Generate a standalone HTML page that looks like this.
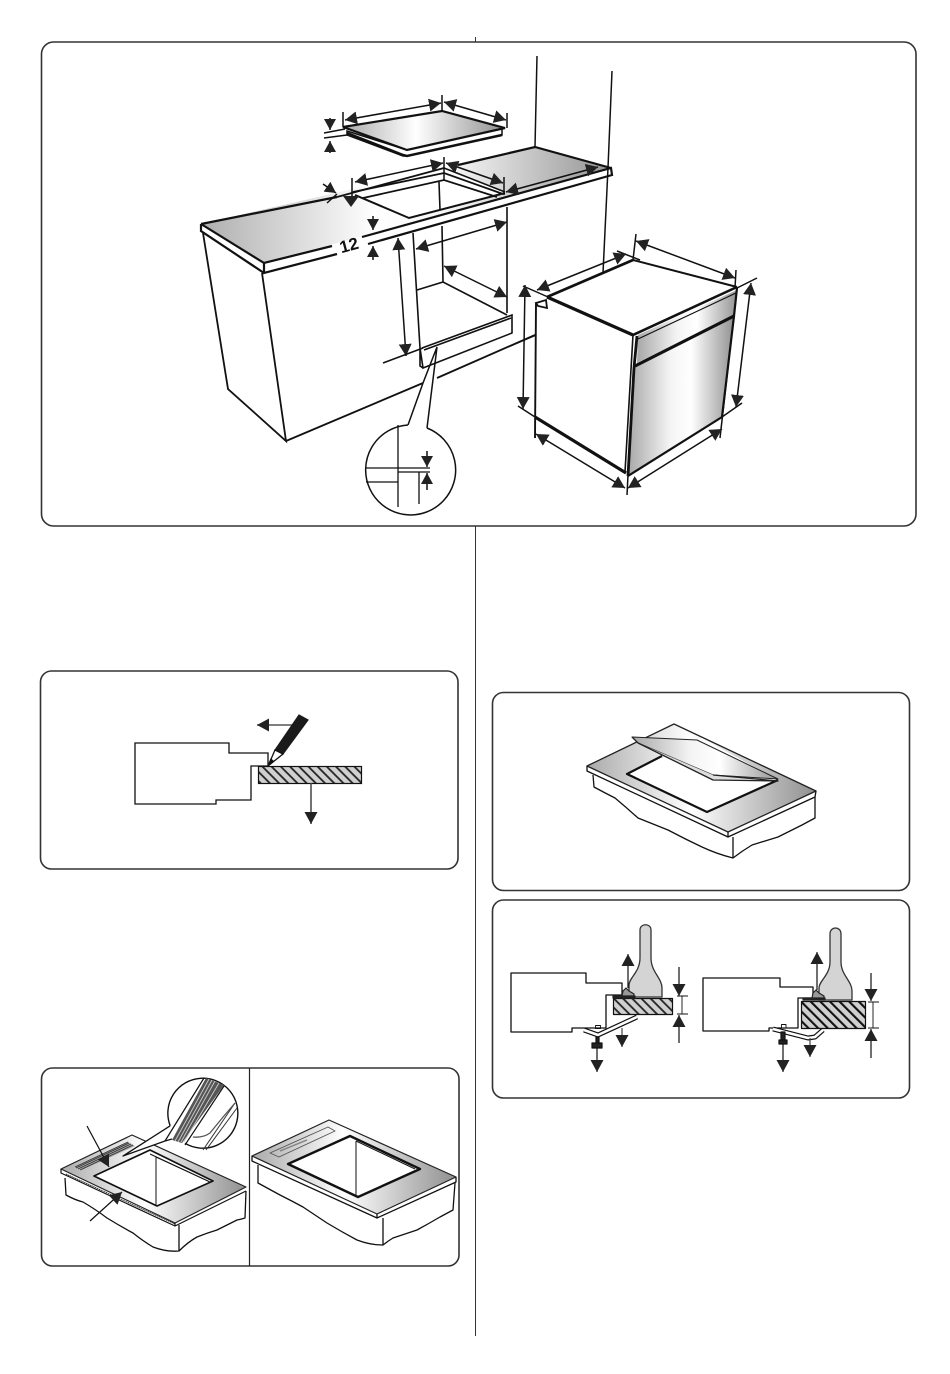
<!DOCTYPE html>
<html><head><meta charset="utf-8"><style>html,body{margin:0;padding:0;background:#fff}svg{display:block}</style></head><body>
<svg width="950" height="1374" viewBox="0 0 950 1374" xmlns="http://www.w3.org/2000/svg">
<defs>
<marker id="a" markerUnits="userSpaceOnUse" markerWidth="13" markerHeight="13" refX="12" refY="6.5" orient="auto-start-reverse"><path d="M0 0L12 6.5L0 13z" fill="#222"/></marker>
<marker id="s" markerUnits="userSpaceOnUse" markerWidth="12" markerHeight="12" refX="11" refY="6" orient="auto-start-reverse"><path d="M0 0L11 6L0 12z" fill="#222"/></marker>
<linearGradient id="g1" gradientUnits="userSpaceOnUse" x1="205" y1="0" x2="610" y2="0"><stop offset="0" stop-color="#b0b0b0"/><stop offset=".42" stop-color="#fff"/><stop offset=".62" stop-color="#f4f4f4"/><stop offset="1" stop-color="#959595"/></linearGradient>
<linearGradient id="g2"><stop offset="0" stop-color="#aaa"/><stop offset=".45" stop-color="#fff"/><stop offset="1" stop-color="#909090"/></linearGradient>
<linearGradient id="g3"><stop offset="0" stop-color="#a8a8a8"/><stop offset=".4" stop-color="#f4f4f4"/><stop offset=".6" stop-color="#fff"/><stop offset="1" stop-color="#949494"/></linearGradient>
<pattern id="h" width="6.500" height="6.500" patternUnits="userSpaceOnUse" patternTransform="rotate(-45)"><rect width="6.500" height="6.500" fill="#d0d0d0"/><line x1="1" y1="0" x2="1" y2="6.500" stroke="#222" stroke-width="1.8"/></pattern>
<pattern id="hb" width="6.800" height="6.800" patternUnits="userSpaceOnUse" patternTransform="rotate(-45)"><rect width="6.800" height="6.800" fill="#d0d0d0"/><line x1="1" y1="0" x2="1" y2="6.800" stroke="#111" stroke-width="2.200"/></pattern>
</defs>

<line x1="475.5" y1="37" x2="475.5" y2="1336" stroke="#333" stroke-width="1"/>

<!-- Panel 1 -->
<rect x="41.5" y="42" width="874.5" height="484" rx="12" fill="#fff" stroke="#333" stroke-width="1.6"/>
<g fill="none" stroke="#111" stroke-width="1.5">
<path d="M537 56L535 147M612 71L608 168L603 273"/>
<path d="M203 233L228 389L286 441L262 273M286 441L423 383M437 378L535 335" stroke-width="1.8"/>
<!-- counter -->
<path d="M201 224L535 147L611 168L264 263Z" fill="url(#g1)" stroke="none"/>
<path d="M353 192L444 168L505 192L409 218Z" fill="#fff" stroke="none"/>
<path d="M201 224L337 197M458 165L535 147L611 168" stroke-width="2.200"/>
<path d="M337 197L444 168" stroke-width="1.8"/>
<path d="M353 192L444 173L503 194M363 198L444 180L497 197" stroke-width="1.8"/>
<path d="M355 195L409 218L505 193" stroke-width="2"/>
<path d="M444 168L505 192" stroke-width="1.5"/>
<path d="M439 182L440 210" stroke-width="1.6"/>
<path d="M201 224L264 263L332 246M362 237L611 168L612 175L368 244M337 254L264 273L264 263M201 224L201 231L264 273" stroke-width="2.200"/>
<!-- opening -->
<path d="M413 233L420 348M507 207L507 313M442 226L443 282M417 290L443 282L507 315M422 348L512 315L512 333L423 368L420 348L420 366L423 368M424 350L511 318" stroke-width="1.6"/>
<!-- callout -->
<path d="M437 347L423 383L408 425M437 347L427 428"/>
<path d="M408 425A45 45 0 1 0 427 428" fill="#fff"/>
<path d="M398 425V507M365 468H430M398 472H430M366 482H398M419 472V504" stroke-width="1.3"/>
<line x1="427" y1="451" x2="427" y2="467" marker-end="url(#s)"/>
<line x1="427" y1="490" x2="427" y2="473" marker-end="url(#s)"/>
<!-- hob -->
<path d="M347 131L407 150L502 128L502 135L407 156L403 156L347 135Z" fill="#fff"/>
<path d="M343 127L442 111L505 128L407 150Z" fill="url(#g2)" stroke="none"/>
<path d="M343 127L442 111L505 128L407 150Z" stroke-width="2.200"/>
<path d="M347 133L403 155L407 156L502 135" stroke-width="2.500"/>
<path d="M343 112V127M442 95V111M507 113V128M324 133L345 129M324 138L347 135M352 178V197M444 157V180M504 177V195"/>
<line x1="345" y1="120" x2="441" y2="103" marker-start="url(#a)" marker-end="url(#a)"/>
<line x1="444" y1="102" x2="506" y2="120" marker-start="url(#a)" marker-end="url(#a)"/>
<line x1="330" y1="118" x2="330" y2="130" marker-end="url(#s)"/>
<line x1="330" y1="153" x2="330" y2="141" marker-end="url(#s)"/>
<line x1="355" y1="182" x2="443" y2="163" marker-start="url(#a)" marker-end="url(#a)"/>
<line x1="446" y1="163" x2="503" y2="183" marker-start="url(#a)" marker-end="url(#a)"/>
<line x1="506" y1="192" x2="598" y2="167" marker-start="url(#a)" marker-end="url(#a)"/>
<path d="M327 203L337 194"/>
<line x1="323" y1="184" x2="336" y2="193" marker-end="url(#s)"/>
<path d="M343 196L359 196L351 207Z" fill="#222" stroke="none"/>
<line x1="373" y1="216" x2="373" y2="230" marker-end="url(#s)"/>
<line x1="373" y1="260" x2="373" y2="246" marker-end="url(#s)"/>
<line x1="398" y1="238" x2="406" y2="356" marker-start="url(#a)" marker-end="url(#a)"/>
<path d="M383 363L423 348"/>
<line x1="416" y1="249" x2="507" y2="222" marker-start="url(#a)" marker-end="url(#a)"/>
<line x1="444" y1="266" x2="507" y2="297" marker-start="url(#a)" marker-end="url(#a)"/>
</g>
<text x="349" y="251" font-family="'Liberation Sans',sans-serif" font-size="17" font-weight="bold" fill="#111" text-anchor="middle" transform="rotate(-15 349 245)">12</text>

<!-- Oven -->
<g fill="none" stroke="#111" stroke-width="1.5">
<path d="M536 303L548 297L633 335L628 475L535 417Z" fill="#fff" stroke="none"/>
<path d="M638 335L737 290L734 315L637 363Z" fill="url(#g3)" stroke="none"/>
<path d="M635 367L733 318L722 417L628 475Z" fill="url(#g3)" stroke="none"/>
<path d="M547 297L633 260" stroke-width="2.800"/>
<path d="M633 260L737 287" stroke-width="2"/>
<path d="M547 297L633 335" stroke-width="3.200"/>
<path d="M633 335L737 287" stroke-width="2.600"/>
<path d="M638 339L736 293" stroke-width="1.200"/>
<path d="M737 288L734 316L722 417L628 476" stroke-width="2.200"/>
<path d="M635 366L734 316" stroke-width="3.200"/>
<path d="M633 335L625 472" stroke-width="1.6"/>
<path d="M637 336L634 368L628 476" stroke-width="2.800"/>
<path d="M535 417L626 473" stroke-width="3.200"/>
<path d="M536 303L535 438" stroke-width="1.9"/>
<path d="M536 303L546 300L547 308L538 306Z" stroke-width="1.8"/>
<path d="M617 251L640 260M523 286L548 297M636 234L633 260M736 270L735 288M757 278L737 288M742 403L722 417M720 438L737 288M518 406L535 417M627 495L628 475M510 346L536 335"/>
<line x1="537" y1="290" x2="626" y2="254" marker-start="url(#a)" marker-end="url(#a)"/>
<line x1="636" y1="241" x2="735" y2="278" marker-start="url(#a)" marker-end="url(#a)"/>
<line x1="525" y1="285" x2="523" y2="409" marker-start="url(#a)" marker-end="url(#a)"/>
<line x1="751" y1="283" x2="736" y2="407" marker-start="url(#a)" marker-end="url(#a)"/>
<line x1="536" y1="434" x2="625" y2="488" marker-start="url(#a)" marker-end="url(#a)"/>
<line x1="628" y1="488" x2="722" y2="429" marker-start="url(#a)" marker-end="url(#a)"/>
</g>

<!-- Panel 2 -->
<rect x="40.5" y="671" width="417.5" height="198" rx="11" fill="#fff" stroke="#333" stroke-width="1.6"/>
<g fill="none" stroke="#111" stroke-width="1.2">
<path d="M135 743H229V753H268V766H251V800H216V804H135Z" stroke-width="1.3"/>
<rect x="258.500" y="766.500" width="103" height="17" fill="url(#h)"/>
<line x1="311" y1="783" x2="311" y2="824" stroke="#444" stroke-width="1.5" marker-end="url(#a)"/>
<line x1="292" y1="725" x2="257" y2="725" stroke="#555" stroke-width="1.6" marker-end="url(#a)"/>
<path d="M275 750L283 754L308 720L299 715Z" fill="#1a1a1a" stroke="#1a1a1a"/>
<path d="M268 766L275 750L283 754Z" fill="#fff" stroke-width="1.3"/>
<path d="M268 766L271 759L273 761Z" fill="#111"/>
</g>

<!-- Panel 3 -->
<rect x="41.5" y="1068" width="417.5" height="198" rx="11" fill="#fff" stroke="#333" stroke-width="1.6"/>
<line x1="249.500" y1="1068" x2="249.500" y2="1266" stroke="#222" stroke-width="1.2"/>
<g fill="none" stroke="#111" stroke-width="1.3" stroke-linejoin="round">
<!-- left unit -->
<path d="M65 1178L66 1195Q75 1200 83 1202Q95 1209 107 1218Q120 1226 133 1233Q143 1241 153 1247Q166 1252 179 1251L179 1225M179 1251Q188 1242 197 1237Q207 1233 217 1230Q227 1225 237 1220Q242 1219 245 1218L246 1191"/>
<path d="M61 1169L132 1135L246 1187L175 1223Z" fill="url(#g2)" stroke="#222" stroke-width="1.2"/>
<path d="M61 1169L61 1173L175 1226L246 1191M175 1223V1226" stroke-width="1.2"/>
<path d="M66 1174L175 1224" stroke-width=".8" stroke-dasharray="1.5 .5"/>
<path d="M94 1176L150 1150L213 1181L157 1206Z" fill="#fff" stroke-width="1.700"/>
<path d="M156 1157V1206M156 1157L210 1182M150 1154L208 1181" stroke-width="1"/>
<path d="M75 1167L128 1142L135 1146L82 1170Z" fill="#aaa" stroke="none"/>
<path d="M75 1167L128 1142M76 1168L129 1143M78 1169L131 1144M80 1170L133 1145" stroke="#333" stroke-width=".9"/>
<!-- magnifier tail & circle -->
<path d="M170.200 1125.800L123 1156L165 1141L176 1139L185 1143.300L240 1100L210 1080Z" fill="#fff" stroke="none"/>
<path d="M170.200 1125.800L123 1156L165 1141L172 1139" stroke-width="1.3"/>
<path d="M170.200 1125.800A35 35 0 1 1 185 1143.300" fill="#fff" stroke-width="1.4"/>
<path d="M172 1140L206 1078L224 1085L182 1143Z" fill="#555" stroke="none"/>
<path d="M175 1141L209 1079M178 1142L212 1080M181 1142L215 1081M184 1142L219 1083" stroke="#ccc" stroke-width=".9"/>
<path d="M165 1141L204 1078M185 1145L224 1086" stroke-width="1.2"/>
<path d="M203 1150L235 1103M206 1150L237 1108" stroke="#333" stroke-width="1"/>
<path d="M193 1137Q203 1138 210 1133Q222 1118 235 1103" stroke="#555" stroke-width="1.3"/>
<line x1="87" y1="1126" x2="109" y2="1167" stroke-width="1.2" marker-end="url(#a)"/>
<line x1="90" y1="1221" x2="122" y2="1192" stroke-width="1.2" marker-end="url(#a)"/>
<!-- right unit -->
<path d="M258 1165L258 1183Q269 1189 280 1195Q292 1201 303 1207Q315 1215 327 1223Q342 1232 357 1240Q370 1245 383 1245L383 1218M383 1245Q388 1241 393 1238Q405 1234 417 1230Q428 1224 440 1217L453 1210L455 1183"/>
<path d="M252 1156L329 1120L456 1177L377 1214Z" fill="url(#g2)" stroke="#222" stroke-width="1.2"/>
<path d="M252 1156L252 1161L377 1218L456 1182L456 1177M377 1214V1218"/>
<path d="M288 1164L350 1136L420 1169L358 1197Z" fill="#fff" stroke-width="2.400"/>
<path d="M356 1141V1195M356 1141L415 1169" stroke-width="1"/>
<path d="M270 1153L328 1127L335 1131L279 1157Z" stroke="#555" stroke-width=".9"/>
<path d="M280 1151L307 1140" stroke="#888" stroke-width="1.5"/>
</g>

<!-- Panel 4 -->
<rect x="492.500" y="692.500" width="417" height="198" rx="11" fill="#fff" stroke="#333" stroke-width="1.6"/>
<g fill="none" stroke="#111" stroke-width="1.3" stroke-linejoin="round">
<path d="M593 775L594 787Q605 793 615 798Q627 808 638 818Q653 824 668 830Q685 839 702 847Q717 854 733 858L733 837M733 858Q742 851 752 845Q765 841 778 837Q790 831 802 825L815 818L815 797"/>
<path d="M587 766L674 724L816 791L728 832Z" fill="url(#g2)" stroke="#222" stroke-width="1.3"/>
<path d="M587 766L587 771L728 837L815 797L816 791M728 832V837" stroke-width="1.3"/>
<path d="M627 774L702 738L778 780L707 812Z" fill="#fff" stroke="none"/>
<path d="M662 756L627 774L707 812L778 780" stroke-width="2.200"/>
<path d="M632 737L697 740L778 779L713 775L638 743Z" fill="url(#g3)" stroke="#222" stroke-width="1"/>
<path d="M638 743L713 780L778 781L713 775M632 737L638 743" fill="#ddd" stroke="#222" stroke-width="1.3"/>
</g>

<!-- Panel 5 -->
<rect x="492.500" y="900" width="417" height="198" rx="11" fill="#fff" stroke="#333" stroke-width="1.6"/>
<g fill="none" stroke="#111" stroke-width="1.2" stroke-linejoin="round">
<path d="M511 973H586V983H622V995H606V1028H572V1032H511Z" stroke-width="1.3"/>
<rect x="613.500" y="998.500" width="59" height="16" fill="url(#h)"/>
<path d="M629 997V985C629 978 640 972 640 958V930C640 923 651 923 651 930V958C651 972 662 978 662 988V997Z" fill="#d4d4d4" stroke="#333" stroke-width="1.3"/>
<path d="M613 996H635V998H613Z" fill="#222" stroke="#222"/>
<path d="M622 996L623 991L626 988L629 991L634 994V996Z" fill="#999" stroke="#222"/>
<line x1="628" y1="988" x2="628" y2="954" marker-end="url(#a)"/>
<line x1="679" y1="967" x2="679" y2="996" marker-end="url(#a)"/>
<line x1="679" y1="1043" x2="679" y2="1015" marker-end="url(#a)"/>
<path d="M677 996H688M677 1014H688M682 996V1014" stroke-width=".9"/>
<path d="M584 1030L598 1035L637 1017" stroke-width="5" stroke="#111"/>
<path d="M584 1030L598 1035L637 1017" stroke-width="2.600" stroke="#fff"/>
<rect x="595.500" y="1025.500" width="5" height="3" stroke-width=".9"/>
<line x1="622" y1="1028" x2="622" y2="1047" stroke="#444" marker-end="url(#a)"/>
<path d="M596 1037H599V1043H596ZM592 1043H602V1048H592Z" fill="#222"/>
<line x1="597" y1="1048" x2="597" y2="1072" marker-end="url(#a)"/>

<path d="M703 978H780V987H813V998H798V1028H769V1031H703Z" stroke-width="1.3"/>
<rect x="801.500" y="1001.500" width="64" height="27" fill="url(#hb)"/>
<path d="M819 1000V988C819 981 830 975 830 962V934C830 926 841 926 841 934V962C841 975 852 981 852 991V1000Z" fill="#d4d4d4" stroke="#333" stroke-width="1.3"/>
<path d="M803 998H825V1000H803Z" fill="#222" stroke="#222"/>
<path d="M812 998L813 993L816 990L819 993L824 996V998Z" fill="#999" stroke="#222"/>
<line x1="817" y1="990" x2="817" y2="952" marker-end="url(#a)"/>
<line x1="871" y1="973" x2="871" y2="1001" marker-end="url(#a)"/>
<line x1="871" y1="1058" x2="871" y2="1029" marker-end="url(#a)"/>
<path d="M868 1002H879M868 1028H879M873 1002V1028" stroke-width=".9"/>
<path d="M773 1029L808 1038L815 1037L823 1030" stroke-width="5" stroke="#111"/>
<path d="M773 1029L808 1038L815 1037L823 1030" stroke-width="2.600" stroke="#fff"/>
<rect x="781.500" y="1024.500" width="4.500" height="3.500" stroke-width=".9"/>
<line x1="810" y1="1038" x2="810" y2="1057" stroke="#444" marker-end="url(#a)"/>
<path d="M781 1032H785V1040H781ZM779 1040H787V1044H779Z" fill="#222"/>
<line x1="783" y1="1044" x2="783" y2="1072" marker-end="url(#a)"/>
</g>
</svg>
</body></html>
